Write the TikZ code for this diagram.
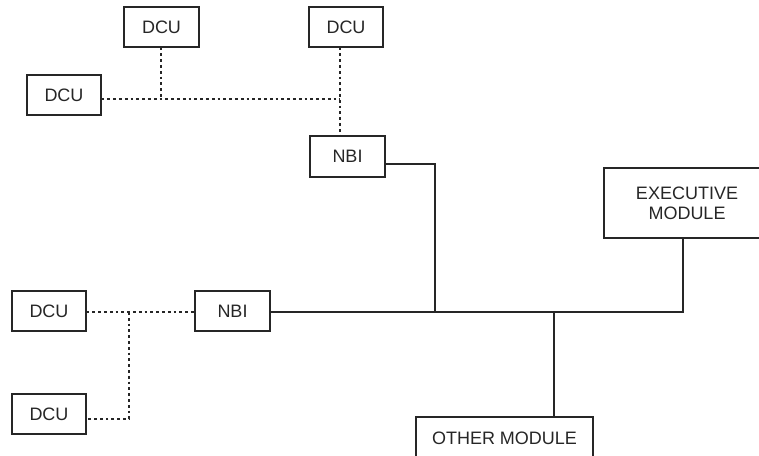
\documentclass[tikz,border=0pt]{standalone}
\usepackage{fontspec}
\setmainfont{Liberation Sans}
\begin{document}
\begin{tikzpicture}[x=1pt,y=-1pt,
  box/.style={draw=black!85,line width=1.1pt,inner sep=0pt,minimum width=75pt,minimum height=40pt,
    font=\fontsize{18}{20}\selectfont,text=black!85},
  bus/.style={draw=black!85,line width=1.1pt},
  dots/.style={draw=black!85,line width=1.1pt,dash pattern=on 2.8pt off 3pt}]
\useasboundingbox (0,0) rectangle (759,455);
\clip (0,0) rectangle (759,455);
\node[box] (d1) at (161.5,27) {DCU};
\node[box,minimum width=74pt] (d2) at (346,27) {DCU};
\node[box,minimum width=74pt] (d3) at (64,95) {DCU};
\node[box,minimum height=41pt] (n1) at (347.5,156.5) {NBI};
\node[box,minimum width=74pt] (d4) at (49,311) {DCU};
\node[box,minimum width=74pt] (d5) at (49,414) {DCU};
\node[box] (n2) at (232.5,311) {NBI};
\node[box,minimum width=166pt,minimum height=70pt,align=center] (ex) at (687,203) {EXECUTIVE\\MODULE};
\node[box,minimum width=177pt,minimum height=42pt] (om) at (504.5,438) {OTHER MODULE};
% junctions
\coordinate (j1) at (161,99);
\coordinate (j2) at (340,99);
\coordinate (k1) at (435,164);
\coordinate (k2) at (435,312);
\coordinate (k3) at (554,312);
\coordinate (k4) at (683,312);
\coordinate (m1) at (129,312);
\coordinate (m2) at (129,419);
% dotted upper
\path[dots] (d1.south -| j1) -- (j1);
\path[dots] (d3.east |- j1) -- (j2);
\path[dots] (d2.south -| j2) -- (n1.north -| j2);
% dotted lower
\path[dots] (d4.east |- m1) -- (n2.west |- m1);
\path[dots] (m1) -- (m2) -- (d5.east |- m2);
% solid bus
\path[bus] (n1.east |- k1) -- (k1) -- (k2);
\path[bus] (n2.east |- k2) -- (k4) -- (ex.south -| k4);
\path[bus] (k3) -- (om.north -| k3);
\end{tikzpicture}
\end{document}
